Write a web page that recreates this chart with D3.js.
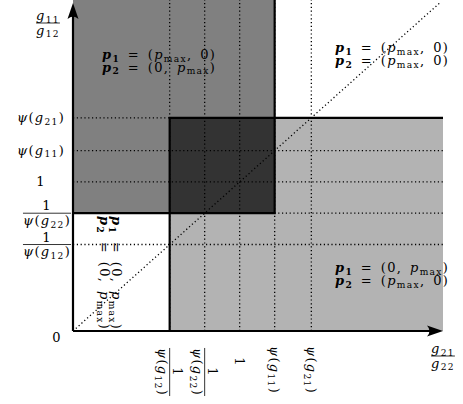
<!DOCTYPE html>
<html>
<head>
<meta charset="utf-8">
<script src="https://cdn.jsdelivr.net/npm/d3@7"></script>
<style>
  body { margin: 0; background: #fff; }
  text { font-family: "DejaVu Serif", serif; fill: #000; letter-spacing: 1.3px; }
</style>
</head>
<body>
<svg id="chart" width="463" height="404"></svg>
<script>
// thresholds on each axis, in units of the ratio
const xTickValues = [0.58, 0.79, 1, 1.21, 1.43];
const xTickLabels = ["1/ψ(g12)", "1/ψ(g22)", "1", "ψ(g11)", "ψ(g21)"];
const yTickValues = [0.58, 0.79, 1, 1.21, 1.43];
const yTickLabels = ["1/ψ(g12)", "1/ψ(g22)", "1", "ψ(g11)", "ψ(g21)"];
const axisMax = 2.22;
const diagonalMax = 2.2;

// the four decision regions
const topLeftText = ["p1 = (pmax, 0)", "p2 = (0, pmax)"];
const topRightText = ["p1 = (pmax, 0)", "p2 = (pmax, 0)"];
const bottomRightText = ["p1 = (0, pmax)", "p2 = (pmax, 0)"];
const bottomLeftText = ["p1 = (0, pmax)", "p2 = (0, pmax)"];

const svg = d3.select("#chart");
const x = d3.scaleLinear().domain([0, axisMax]).range([73, 443]);
const y = d3.scaleLinear().domain([0, axisMax]).range([331, 0]);

// split "p1 = (pmax, 0)" etc. into styled pieces
function mathParts(s) {
  const out = [];
  const re = /p(\d)|pmax|ψ\(g(\d+)\)|g(\d+)/g;
  let last = 0, m;
  const plain = t => t.replace(" = ", "\u2002=\u2002").replace(", ", ",\u2002");
  while ((m = re.exec(s))) {
    if (m.index > last) out.push([plain(s.slice(last, m.index)), ""]);
    if (m[0] === "pmax") out.push(["p", "i"], ["max", "_"]);
    else if (m[1]) out.push(["p", "bi"], [m[1], "b_"]);
    else if (m[2]) out.push(["ψ", "i"], ["(", ""], ["g", "i"], [m[2], "_"], [")", ""]);
    else out.push(["g", "i"], [m[3], "_"]);
    last = re.lastIndex;
  }
  if (last < s.length) out.push([plain(s.slice(last)), ""]);
  return out;
}

function mathText(g, str, tx, ty, size, anchor) {
  const t = g.append("text")
    .attr("x", tx)
    .attr("y", ty)
    .attr("font-size", size)
    .attr("text-anchor", anchor || "start")
    .attr("xml:space", "preserve")
    .style("white-space", "pre");
  let shift = 0;
  mathParts(str).forEach(([s, k]) => {
    const sub = k.includes("_");
    const want = sub ? size * 0.2 : 0;
    const ts = t.append("tspan").attr("dy", want - shift).text(s);
    shift = want;
    if (sub) ts.attr("font-size", size * 0.7);
    if (k.includes("b")) ts.attr("font-weight", "bold");
    if (k.includes("i")) ts.attr("font-style", "italic");
  });
  return t;
}

function fracText(g, str, cx, cy, size) {
  const [num, den] = str.split("/");
  const n = mathText(g, num, cx, cy - 3, size, "middle");
  const d = mathText(g, den, cx, cy + size * 0.9, size, "middle");
  const w = Math.max(n.node().getComputedTextLength(), d.node().getComputedTextLength());
  g.append("line")
    .attr("x1", cx - w / 2).attr("x2", cx + w / 2)
    .attr("y1", cy).attr("y2", cy)
    .attr("stroke", "#000").attr("stroke-width", 0.8);
}

const fs = 13;

// tick labels first, so the axis line sits on top of them
const yLab = svg.append("g");
yTickValues.forEach((v, i) => {
  const lab = yTickLabels[i];
  if (lab.includes("/")) fracText(yLab, lab, 47, y(v), fs);
  else mathText(yLab, lab, 41, y(v) + fs * 0.33, fs, "middle");
});
mathText(yLab, "0", 57, 342, fs, "middle");
fracText(yLab, "g11/g12", 48, 23, fs);

xTickValues.forEach((v, i) => {
  const lab = xTickLabels[i];
  const g = svg.append("g").attr("transform", `translate(${x(v)},0) rotate(90)`);
  if (lab.includes("/")) fracText(g, lab, 372, 0, fs);
  else mathText(g, lab, lab === "1" ? 362 : 370, fs * 0.33, fs, "middle");
});
fracText(svg.append("g"), "g21/g22", 443, 356, fs);

// regions
const regions = svg.append("g");
regions.append("rect")
  .attr("x", x(0)).attr("y", y(axisMax))
  .attr("width", x(xTickValues[3]) - x(0))
  .attr("height", y(yTickValues[1]) - y(axisMax))
  .attr("fill", "#808080");
regions.append("rect")
  .attr("x", x(xTickValues[0])).attr("y", y(yTickValues[4]))
  .attr("width", x(axisMax) - x(xTickValues[0]))
  .attr("height", y(0) - y(yTickValues[4]))
  .attr("fill", "#b3b3b3");
regions.append("rect")
  .attr("x", x(xTickValues[0])).attr("y", y(yTickValues[4]))
  .attr("width", x(xTickValues[3]) - x(xTickValues[0]))
  .attr("height", y(yTickValues[1]) - y(yTickValues[4]))
  .attr("fill", "#333333");

// region captions
const cap = svg.append("g");
topLeftText.forEach((s, i) => mathText(cap, s, 102, 59 + i * 12.5, fs));
topRightText.forEach((s, i) => mathText(cap, s, 335, 52 + i * 13, fs));
bottomRightText.forEach((s, i) => mathText(cap, s, 335, 272 + i * 13, fs));
const capRot = cap.append("g").attr("transform", `translate(110,216) rotate(90)`);
bottomLeftText.forEach((s, i) => mathText(capRot, s, 0, -2 + i * 12, fs));

// dotted guides
const dots = svg.append("g")
  .attr("stroke", "#000")
  .attr("stroke-width", 1.3)
  .attr("stroke-dasharray", "1.2 2.6")
  .attr("fill", "none");
xTickValues.forEach(v => {
  dots.append("line").attr("x1", x(v)).attr("x2", x(v)).attr("y1", y(0)).attr("y2", y(axisMax));
});
yTickValues.forEach(v => {
  dots.append("line").attr("x1", x(0)).attr("x2", x(axisMax)).attr("y1", y(v)).attr("y2", y(v));
});
dots.append("line")
  .attr("x1", x(0)).attr("y1", y(0))
  .attr("x2", x(diagonalMax)).attr("y2", y(diagonalMax));

// region borders
const line = d3.line().x(d => x(d[0])).y(d => y(d[1]));
const borders = svg.append("g").attr("stroke", "#000").attr("stroke-width", 2.2).attr("fill", "none");
borders.append("path").attr("d", line([
  [xTickValues[3], axisMax], [xTickValues[3], yTickValues[1]], [0, yTickValues[1]]
]));
borders.append("path").attr("d", line([
  [xTickValues[0], 0], [xTickValues[0], yTickValues[4]], [axisMax, yTickValues[4]]
]));

// axes with arrowheads
const axes = svg.append("g");
axes.append("line")
  .attr("x1", x(0)).attr("y1", y(0)).attr("x2", x(axisMax) - 8).attr("y2", y(0))
  .attr("stroke", "#000").attr("stroke-width", 2.2);
axes.append("line")
  .attr("x1", x(0)).attr("y1", y(0)).attr("x2", x(0)).attr("y2", y(diagonalMax) + 8)
  .attr("stroke", "#000").attr("stroke-width", 2.2);
const head = "M0,0 L-16,-5.5 Q-11,0 -16,5.5 Z";
axes.append("path").attr("d", head)
  .attr("transform", `translate(${x(axisMax)},${y(0)})`);
axes.append("path").attr("d", head)
  .attr("transform", `translate(${x(0)},${y(diagonalMax)}) rotate(-90)`);
</script>
</body>
</html>
